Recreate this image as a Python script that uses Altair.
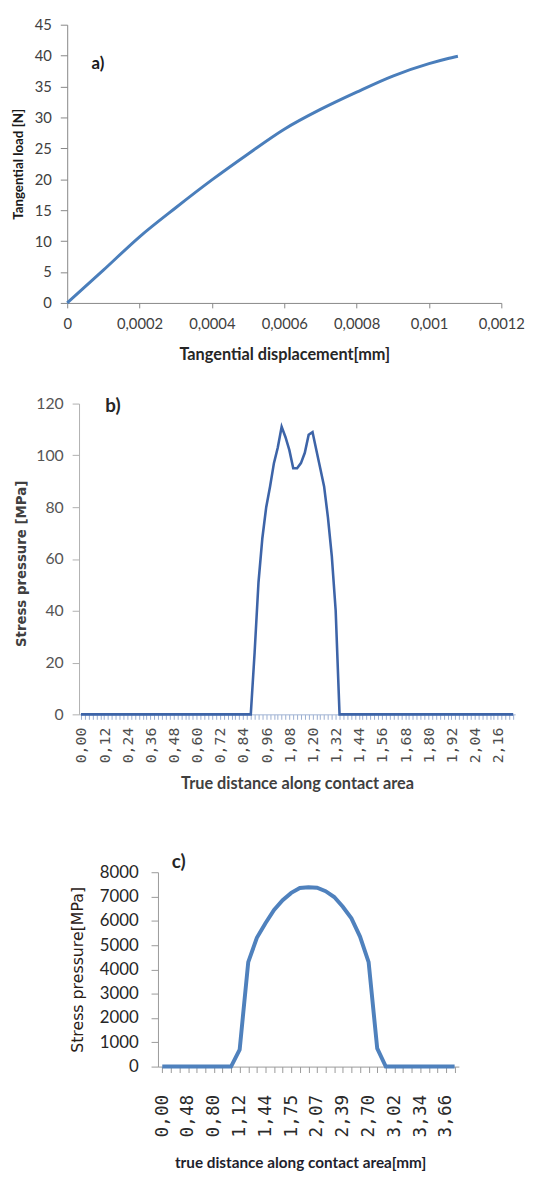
import json
import altair as alt
import pandas as pd

FONT = "Lato"
MONO = "DejaVu Sans Mono"
WIDE = "DejaVu Sans"

# ---------------- panel a) ----------------
a_disp = [0, 0.0001, 0.0002, 0.0003, 0.0004, 0.0005, 0.0006, 0.0007, 0.0008, 0.0009, 0.001, 0.00105, 0.00108]
a_load = [0, 5.3, 10.7, 15.4, 19.9, 24.1, 28.1, 31.3, 34.1, 36.7, 38.7, 39.5, 39.9]
a_xticks = [0, 0.0002, 0.0004, 0.0006, 0.0008, 0.001, 0.0012]
a_xlabels = ["0", "0,0002", "0,0004", "0,0006", "0,0008", "0,001", "0,0012"]
a_yticks = [0, 5, 10, 15, 20, 25, 30, 35, 40, 45]
a_tag = (0.000085, 38.6)

# ---------------- panel b) ----------------
b_dist = [0.00, 0.88, 0.90, 0.92, 0.94, 0.96, 0.98, 1.00, 1.02, 1.04, 1.06, 1.08, 1.10, 1.12,
          1.14, 1.16, 1.18, 1.20, 1.22, 1.24, 1.26, 1.28, 1.30, 1.32, 1.34, 2.24]
b_press = [0, 0, 24, 51, 68, 80, 88, 97, 103, 111, 107, 102, 95, 95,
           97, 101, 108, 109, 102, 95, 88, 76, 61, 40, 0, 0]
b_labels = ["0,00", "0,12", "0,24", "0,36", "0,48", "0,60", "0,72", "0,84", "0,96", "1,08",
            "1,20", "1,32", "1,44", "1,56", "1,68", "1,80", "1,92", "2,04", "2,16"]
b_ticks = [round(i * 0.02, 2) for i in range(113)]
b_yticks = [0, 20, 40, 60, 80, 100, 120]
b_tag = (0.166, 118.9)

# ---------------- panel c) ----------------
c_idx = [0, 8, 9, 10, 11, 12, 13, 14, 15, 16, 17, 18, 19, 20, 21, 22, 23, 24, 25, 26, 34]
c_press = [0, 0, 700, 4300, 5300, 5900, 6450, 6850, 7150, 7350, 7380, 7360, 7220, 6980,
           6580, 6100, 5350, 4300, 750, 0, 0]
c_labels = ["0,00", "0,48", "0,80", "1,12", "1,44", "1,75", "2,07", "2,39", "2,70", "3,02", "3,34", "3,66"]
c_ticks = list(range(35))
c_yticks = [0, 1000, 2000, 3000, 4000, 5000, 6000, 7000, 8000]
c_tag = (1.9, 8400)

AX = "#868686"


def spacer(w, h=10):
    return alt.Chart(pd.DataFrame({"v": [0]})).mark_rule(opacity=0).encode(
        x=alt.value(0), x2=alt.value(w), y=alt.value(0)
    ).properties(width=w, height=h)


# ---- a
a_df = pd.DataFrame({"disp": a_disp, "load": a_load})
a_line = alt.Chart(a_df).mark_line(color="#4a7ebb", strokeWidth=3, interpolate="monotone").encode(
    x=alt.X("disp:Q", scale=alt.Scale(domain=[0, 0.0012], nice=False, zero=False),
            axis=alt.Axis(values=a_xticks, tickCount=len(a_xticks), grid=False,
                          domainColor=AX, tickColor=AX,
                          labelExpr=json.dumps(a_xlabels) + "[round(datum.value/0.0002)]",
                          tickSize=5, labelPadding=9, labelFont=FONT, labelFontSize=15,
                          labelColor="#404040", labelFlush=False, labelOverlap=False,
                          title="Tangential  displacement[mm]", titleFont=FONT, titleFontSize=16.5,
                          titleFontWeight="bold", titleColor="#262626", titleY=52,
                          titleBaseline="middle")),
    y=alt.Y("load:Q", scale=alt.Scale(domain=[0, 45], nice=False),
            axis=alt.Axis(values=a_yticks, tickCount=len(a_yticks), grid=False,
                          domainColor=AX, tickColor=AX,
                          tickSize=7, labelPadding=9, labelFont=FONT, labelFontSize=15,
                          labelColor="#404040", labelFlush=False, labelOverlap=False,
                          title="Tangential load [N]", titleFont=FONT, titleFontSize=13.5,
                          titleFontWeight="bold", titleColor="#1a1a1a", titleX=-49,
                          titleBaseline="middle")),
)
a_txt = alt.Chart(pd.DataFrame({"v": [0]})).mark_text(
    text="a)", font=FONT, fontSize=17, fontWeight="bold", color="#1a1a1a"
).encode(x=alt.datum(a_tag[0]), y=alt.datum(a_tag[1]))
panel_a = alt.layer(a_line, a_txt).properties(width=440, height=282)

# ---- b
b_df = pd.DataFrame({"dist": b_dist, "press": b_press})
b_line = alt.Chart(b_df).mark_line(color="#3d64a8", strokeWidth=2.6).encode(
    x=alt.X("dist:Q", scale=alt.Scale(domain=[-0.01, 2.25], nice=False, zero=False),
            axis=alt.Axis(values=b_ticks, tickCount=len(b_ticks), grid=False,
                          domainColor="#9fb3d3", tickColor="#9aaed0",
                          labelExpr="round(datum.value*100) % 12 == 0 ? " + json.dumps(b_labels)
                          + "[round(datum.value*100)/12] : ''",
                          labelAngle=270, tickSize=5, labelPadding=8, labelFont=MONO,
                          labelFontSize=15, labelColor="#4d4d4d", labelFlush=False,
                          labelOverlap=False,
                          title="True distance  along contact area", titleFont=FONT,
                          titleFontSize=16.5, titleFontWeight="bold", titleColor="#404040",
                          titleY=70, titleBaseline="middle")),
    y=alt.Y("press:Q", scale=alt.Scale(domain=[0, 120], nice=False),
            axis=alt.Axis(values=b_yticks, tickCount=len(b_yticks), grid=False,
                          domainColor="#b0b0b0", tickColor="#b0b0b0",
                          tickSize=7, labelPadding=9, labelFont=FONT, labelFontSize=16,
                          labelColor="#555555", labelFlush=False, labelOverlap=False,
                          title="Stress pressure [MPa]", titleFont=WIDE, titleFontSize=13.5,
                          titleFontWeight="bold", titleColor="#404040", titleX=-58, titleY=162,
                          titleBaseline="middle")),
)
b_txt = alt.Chart(pd.DataFrame({"v": [0]})).mark_text(
    text="b)", font=FONT, fontSize=19, fontWeight="bold", color="#262626"
).encode(x=alt.datum(b_tag[0]), y=alt.datum(b_tag[1]))
panel_b = alt.layer(b_line, b_txt).properties(width=442, height=315)

# ---- c
c_df = pd.DataFrame({"idx": c_idx, "press": c_press})
c_line = alt.Chart(c_df).mark_line(color="#4f81bd", strokeWidth=4).encode(
    x=alt.X("idx:Q", scale=alt.Scale(domain=[-0.5, 34.5], nice=False, zero=False),
            axis=alt.Axis(values=c_ticks, tickCount=len(c_ticks), grid=False,
                          domainColor="#999999", tickColor="#999999",
                          labelExpr="datum.value % 3 == 0 ? " + json.dumps(c_labels)
                          + "[datum.value/3] : ''",
                          labelAngle=270, tickSize=6, labelPadding=22, labelFont=MONO,
                          labelFontSize=18, labelColor="#2a2a2a", labelFlush=False,
                          labelOverlap=False,
                          title="true distance along contact area[mm]", titleFont=FONT,
                          titleFontSize=15.5, titleFontWeight="bold", titleColor="#1f1f2e",
                          titleX=144, titleY=97, titleBaseline="middle")),
    y=alt.Y("press:Q", scale=alt.Scale(domain=[0, 8000], nice=False),
            axis=alt.Axis(values=c_yticks, tickCount=len(c_yticks), format="d", grid=False,
                          domainColor="#999999", tickColor="#999999",
                          tickSize=7, labelPadding=13, labelFont=FONT, labelFontSize=17,
                          labelColor="#262626", labelFlush=False, labelOverlap=False,
                          title="Stress pressure[MPa]", titleFont=WIDE, titleFontSize=16,
                          titleFontWeight="normal", titleColor="#2a2016", titleX=-81,
                          titleBaseline="middle")),
)
c_txt = alt.Chart(pd.DataFrame({"v": [0]})).mark_text(
    text="c)", font=FONT, fontSize=19, fontWeight="bold", color="#262626"
).encode(x=alt.datum(c_tag[0]), y=alt.datum(c_tag[1]))
panel_c = alt.layer(c_line, c_txt).properties(width=305, height=197)

row_a = alt.hconcat(spacer(4), panel_a, spacing=0)
row_b = alt.hconcat(spacer(7), panel_b, spacing=0)
row_c = alt.hconcat(spacer(62), panel_c, spacing=0)

chart = alt.vconcat(
    alt.vconcat(row_a, row_b, spacing=33),
    row_c,
    spacing=62,
).properties(
    padding={"left": 0, "top": 2, "right": 0, "bottom": 0}
).configure_view(stroke=None)

chart.save("out.html", embed_options={"renderer": "svg", "actions": False})
